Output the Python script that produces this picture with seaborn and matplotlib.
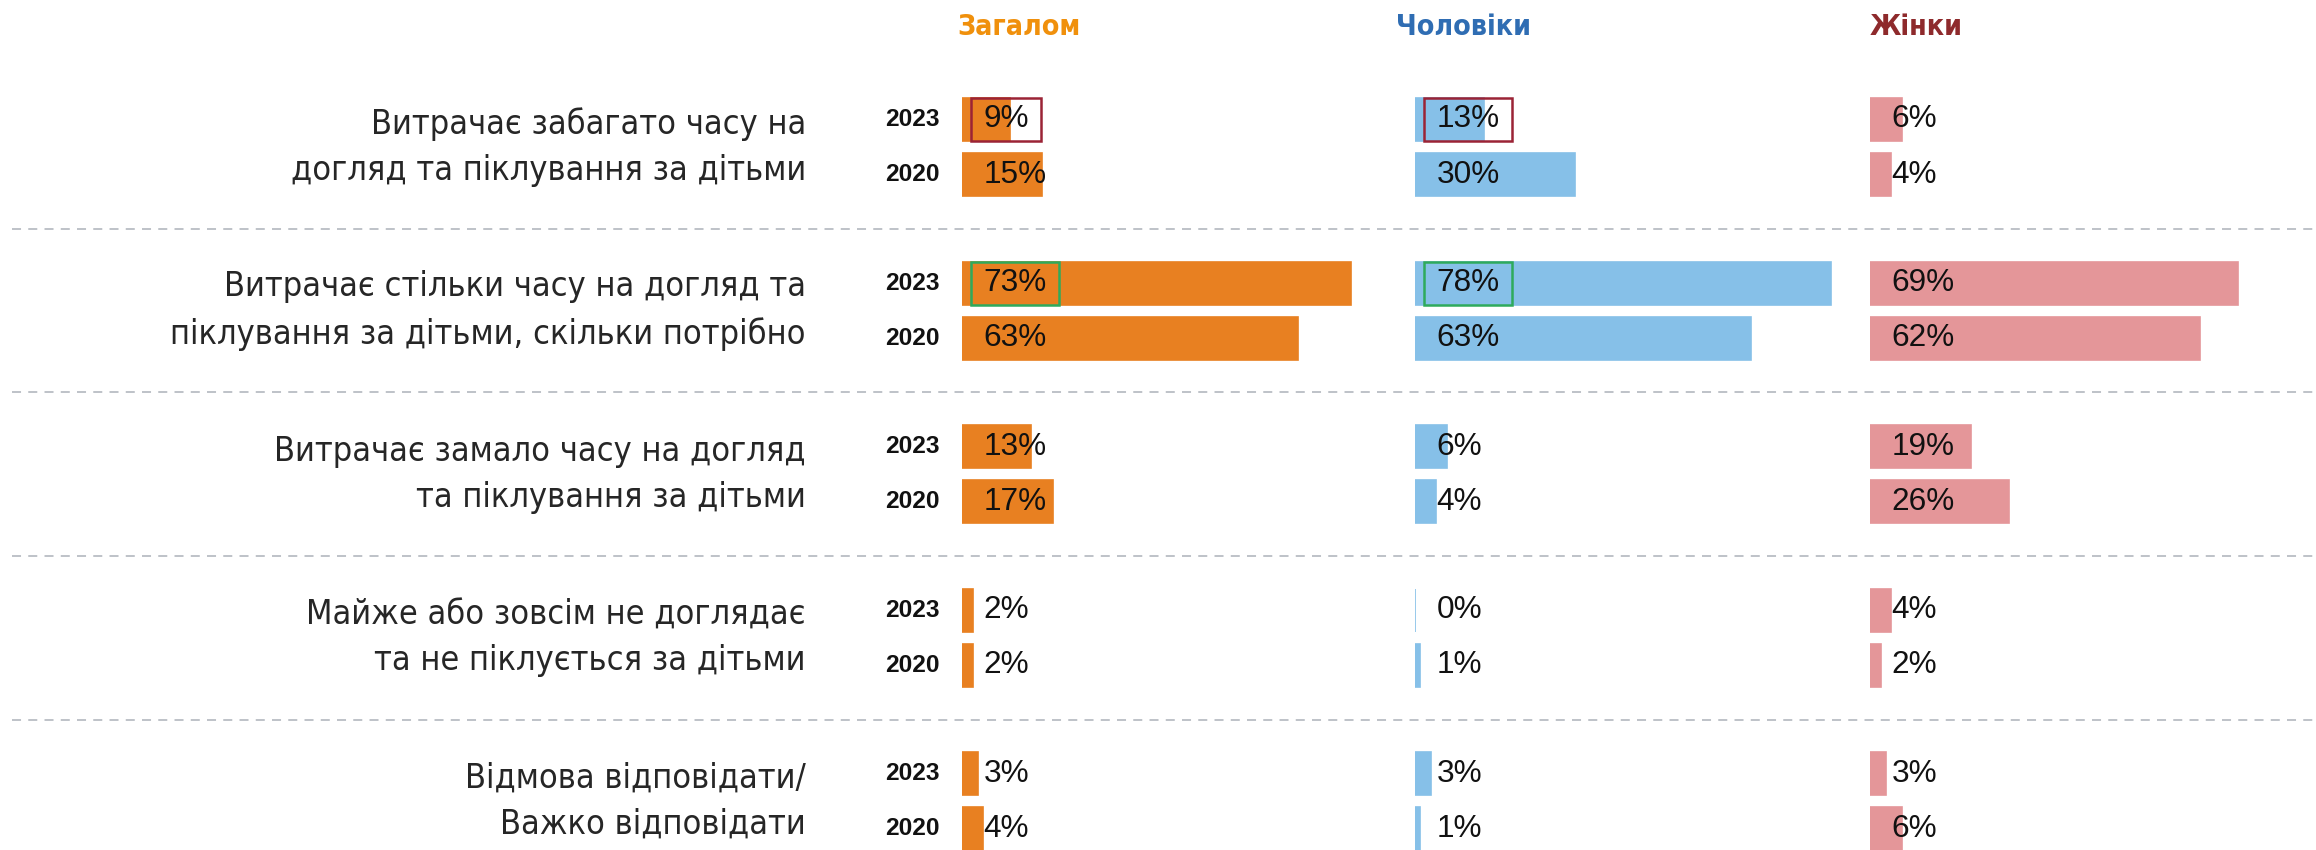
import pandas as pd
import seaborn as sns
import matplotlib.pyplot as plt
import matplotlib.transforms as mtransforms
from matplotlib.patches import Rectangle

sns.set_style("white")
plt.rcParams['font.family'] = ['DejaVu Sans']

# ---- data -----------------------------------------------------------------
categories = [
    "Витрачає забагато часу на\nдогляд та піклування за дітьми",
    "Витрачає стільки часу на догляд та\nпіклування за дітьми, скільки потрібно",
    "Витрачає замало часу на догляд\nта піклування за дітьми",
    "Майже або зовсім не доглядає\nта не піклується за дітьми",
    "Відмова відповідати/\nВажко відповідати",
]
years = ["2023", "2020"]
groups = ["Загалом", "Чоловіки", "Жінки"]

total_2023 = [9, 73, 13, 2, 3]
total_2020 = [15, 63, 17, 2, 4]
men_2023 = [13, 78, 6, 0, 3]
men_2020 = [30, 63, 4, 1, 1]
women_2023 = [6, 69, 19, 4, 3]
women_2020 = [4, 62, 26, 2, 6]

values = {
    "Загалом": {"2023": total_2023, "2020": total_2020},
    "Чоловіки": {"2023": men_2023, "2020": men_2020},
    "Жінки": {"2023": women_2023, "2020": women_2020},
}

rows = []
for g in groups:
    for y in years:
        for c, v in zip(categories, values[g][y]):
            rows.append({"group": g, "year": y, "category": c, "value": v})
df = pd.DataFrame(rows)

# ---- styling --------------------------------------------------------------
bar_colors = {"Загалом": "#E88021", "Чоловіки": "#86C0E8", "Жінки": "#E49699"}
head_colors = {"Загалом": "#F0900C", "Чоловіки": "#2F6DB3", "Жінки": "#8E2A2C"}

W, H = 2316, 850
px_per_unit = 5.33          # pixels per percentage point
panel_left = {"Загалом": 962, "Чоловіки": 1415, "Жінки": 1870}
panel_width = 446
head_x = {"Загалом": 957, "Чоловіки": 1396, "Жінки": 1870}

# vertical layout: categories 0..4, one unit = group pitch
pitch = 163.6
first_center = 147
y_top = -first_center / pitch
y_bottom = (H - first_center) / pitch

fig = plt.figure(figsize=(W / 100, H / 100), dpi=100)

bg = fig.add_axes([0, 0, 1, 1])
bg.set_xlim(0, 1)
bg.set_ylim(y_bottom, y_top)
bg.axis("off")
bg.hlines([i + 0.5 for i in range(len(categories) - 1)], 12 / W, 1,
          colors="#B9BDC4", linestyles=(0, (5, 4)), linewidth=1.3)

# category labels
cat_tr = mtransforms.blended_transform_factory(fig.transFigure, bg.transData)
for i, c in enumerate(categories):
    bg.text(806 / W, i, c, transform=cat_tr, ha="right", va="center",
            fontsize=24.6, color="#262626", linespacing=1.5,
            fontstretch="condensed", family="DejaVu Sans")

axes = {}
for g in groups:
    ax = fig.add_axes([panel_left[g] / W, 0, panel_width / W, 1])
    sub = df[df["group"] == g]
    sns.barplot(data=sub, y="category", x="value", hue="year",
                order=categories, hue_order=years,
                palette=[bar_colors[g], bar_colors[g]], saturation=1,
                width=0.674, gap=0.22, dodge=True, orient="h",
                edgecolor=bar_colors[g], linewidth=1.2,
                legend=False, ax=ax)
    ax.set_xlim(0, panel_width / px_per_unit)
    ax.set_ylim(y_bottom, y_top)
    ax.axis("off")
    axes[g] = ax

    for cont, y in zip(ax.containers, years):
        for bar, v in zip(cont, values[g][y]):
            yc = bar.get_y() + bar.get_height() / 2
            ax.text(4.0, yc, f"{v}%", ha="left", va="center",
                    fontsize=22.7, color="#111111", family="Liberation Sans")

    fig.text(head_x[g] / W, 1 - 27 / H, g, ha="left", va="center",
             fontsize=20.5, fontweight="bold", color=head_colors[g],
             family="DejaVu Sans", fontstretch="condensed")

# year labels next to the first panel
ax0 = axes["Загалом"]
yr_tr = mtransforms.blended_transform_factory(fig.transFigure, ax0.transData)
for cont, y in zip(ax0.containers, years):
    for bar in cont:
        yc = bar.get_y() + bar.get_height() / 2
        ax0.text(940 / W, yc, y, transform=yr_tr, ha="right", va="center",
                 fontsize=17.6, fontweight="bold", color="#111111",
                 family="Liberation Sans")

# highlight boxes around the 2023 labels
highlights = [("Загалом", 0, 13.2, "#9B2335"), ("Чоловіки", 0, 16.5, "#9B2335"),
              ("Загалом", 1, 16.5, "#2EAA5C"), ("Чоловіки", 1, 16.5, "#2EAA5C")]
for g, idx, w, col in highlights:
    bar = axes[g].containers[0][idx]
    axes[g].add_patch(Rectangle((1.7, bar.get_y()), w, bar.get_height(),
                                fill=False, edgecolor=col, linewidth=1.8,
                                zorder=5))

fig.savefig("out.png", dpi=100)
